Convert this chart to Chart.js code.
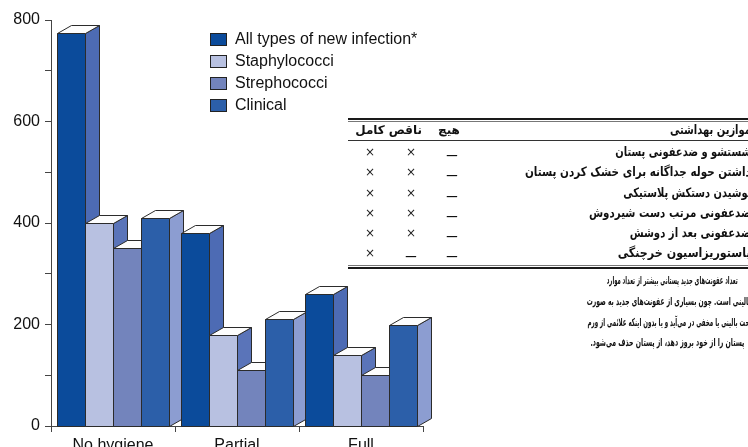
<!DOCTYPE html>
<html><head><meta charset="utf-8">
<script src="https://cdn.jsdelivr.net/npm/chart.js@4"></script>
<style>
html,body{margin:0;padding:0;background:#fff;}
#wrap{position:relative;width:748px;height:447px;overflow:hidden;background:#fff;}
#c{position:absolute;left:0;top:0;}
.leg{position:absolute;left:210px;height:16px;width:260px;font:16px "Liberation Sans",Arial,sans-serif;color:#111;white-space:nowrap;}
.leg .box{position:absolute;left:0;top:1px;width:15px;height:11px;border:1px solid #222;}
.leg .t{position:absolute;left:25px;top:-1px;line-height:16px;}
.fa{position:absolute;font-family:"DejaVu Sans",sans-serif;font-weight:bold;color:#111;direction:rtl;white-space:nowrap;line-height:20px;height:20px;transform-origin:100% 50%;}
.rule{position:absolute;left:348px;width:420px;}
.mk{position:absolute;width:30px;text-align:center;font-family:"DejaVu Sans",sans-serif;font-size:12px;color:#222;line-height:20px;height:20px;}
.dash{position:absolute;width:30px;text-align:center;font-family:"DejaVu Sans",sans-serif;font-weight:bold;font-size:13px;color:#111;line-height:20px;height:20px;transform:scaleX(1.6);}
</style></head>
<body>
<div id="wrap">
<canvas id="c" width="748" height="447"></canvas>
<div id="legend"></div>
<div id="table"></div>
<div id="para"></div>
</div>
<script>
// ---- data ----
const categories = ['No hygiene', 'Partial', 'Full'];
const seriesNames = ['All types of new infection*', 'Staphylococci', 'Strephococci', 'Clinical'];
const allTypes = [775, 380, 260];
const staphylococci = [400, 180, 140];
const strephococci = [350, 110, 100];
const clinical = [410, 210, 200];
const yTickLabels = [0, 200, 400, 600, 800];

const frontColors = ['#0b4b9b', '#b8c1e1', '#7384bc', '#2c5fa9'];
const sideColors = ['#4d6bb4', '#5a74b9', '#5a70b2', '#8c9dd1'];

// table (Persian)
const tableHeader = ['موازین بهداشتی', 'هیچ', 'ناقص', 'کامل'];
const hygieneMeasures = [
  'شستشو و ضدعفونی پستان',
  'داشتن حوله جداگانه برای خشک کردن پستان',
  'پوشیدن دستکش پلاستیکی',
  'ضدعفونی مرتب دست شیردوش',
  'ضدعفونی بعد از دوشش',
  'پاستوریزاسیون خرچنگی'
];
// columns: none, partial, full
const noneMarks = ['_', '_', '_', '_', '_', '_'];
const partialMarks = ['×', '×', '×', '×', '×', '_'];
const fullMarks = ['×', '×', '×', '×', '×', '×'];
const noteLines = [
  'تعداد عفونت‌های جدید پستانی بیشتر از تعداد موارد',
  'بالینی است. چون بسیاری از عفونت‌های جدید به صورت',
  'تحت بالینی یا مخفی در می‌آید و یا بدون اینکه علائمی از ورم',
  'پستان را از خود بروز دهد، از پستان حذف می‌شود.'
];

const seriesValues = [allTypes, staphylococci, strephococci, clinical];

const bar3d = {
  id: 'bar3d',
  beforeDatasetsDraw(chart) {
    const ctx = chart.ctx;
    const dx = 14, dy = 8;
    const poly = (pts) => {
      ctx.beginPath();
      ctx.moveTo(pts[0][0], pts[0][1]);
      for (let k = 1; k < pts.length; k++) ctx.lineTo(pts[k][0], pts[k][1]);
      ctx.closePath(); ctx.fill(); ctx.stroke();
    };
    ctx.save();
    ctx.lineWidth = 1; ctx.strokeStyle = '#2b2b2b'; ctx.lineJoin = 'miter';
    const n = chart.data.labels.length;
    for (let i = 0; i < n; i++) {
      chart.data.datasets.forEach((ds, d) => {
        const el = chart.getDatasetMeta(d).data[i];
        const p = el.getProps(['x', 'y', 'base', 'width'], true);
        const l = Math.round(p.x - p.width / 2) + 0.5, r = Math.round(p.x + p.width / 2) + 0.5;
        const y = Math.round(p.y) + 0.5, b = Math.round(p.base) + 0.5;
        ctx.fillStyle = ds.backgroundColor;
        poly([[l, y], [r, y], [r, b], [l, b]]);
        ctx.fillStyle = ds.sideColor;
        poly([[r, y], [r + dx, y - dy], [r + dx, b - dy], [r, b]]);
        ctx.fillStyle = '#fdfdfd';
        poly([[l, y], [l + dx, y - dy], [r + dx, y - dy], [r, y]]);
      });
    }
    ctx.restore();
    return false;
  }
};

const font16 = { size: 16, family: '"Liberation Sans", Arial, sans-serif' };

const chart = new Chart(document.getElementById('c'), {
  type: 'bar',
  data: {
    labels: categories,
    datasets: seriesNames.map((name, k) => ({
      label: name,
      data: seriesValues[k],
      backgroundColor: frontColors[k],
      sideColor: sideColors[k],
      borderColor: '#2b2b2b',
      borderWidth: 1,
      categoryPercentage: 0.905,
      barPercentage: 1.0
    }))
  },
  options: {
    responsive: false,
    animation: false,
    devicePixelRatio: 1,
    layout: { padding: { top: 20, right: 325, left: 0, bottom: 0 } },
    plugins: { legend: { display: false }, tooltip: { enabled: false } },
    scales: {
      x: {
        grid: { display: true, drawOnChartArea: false, drawTicks: true, tickLength: 6, color: '#444', offset: true },
        border: { display: true, color: '#444', width: 1 },
        ticks: { font: font16, color: '#111', padding: 4, maxRotation: 0 },
        afterFit(s) { s.height = 21; }
      },
      y: {
        min: 0, max: 800,
        grid: { drawOnChartArea: false, drawTicks: true, tickLength: 6, color: '#444' },
        border: { display: true, color: '#444', width: 1 },
        ticks: {
          stepSize: 100, font: font16, color: '#111', padding: 5,
          callback: v => yTickLabels.includes(v) ? String(v) : ''
        },
        afterFit(s) { s.width = 51; }
      }
    }
  },
  plugins: [bar3d]
});

// ---- legend (HTML) ----
const legend = document.getElementById('legend');
chart.data.datasets.forEach((ds, k) => {
  const item = document.createElement('div');
  item.className = 'leg';
  item.style.top = (32 + 22 * k) + 'px';
  item.innerHTML = '<span class="box" style="background:' + ds.backgroundColor + '"></span><span class="t"></span>';
  item.querySelector('.t').textContent = ds.label;
  legend.appendChild(item);
});

// ---- helpers ----
function fitRight(parent, txt, rightX, leftX, cy, size) {
  const el = document.createElement('div');
  el.className = 'fa';
  el.textContent = txt;
  el.style.fontSize = size + 'px';
  el.style.top = (cy - 10) + 'px';
  el.style.right = (748 - rightX) + 'px';
  parent.appendChild(el);
  const w = el.getBoundingClientRect().width;
  el.style.transform = 'scaleX(' + ((rightX - leftX) / w).toFixed(4) + ')';
  return el;
}

// ---- table (HTML) ----
const table = document.getElementById('table');
function addRule(top, h, color) {
  const r = document.createElement('div');
  r.className = 'rule';
  r.style.top = top + 'px'; r.style.height = h + 'px'; r.style.background = color;
  table.appendChild(r);
}
addRule(118, 2, '#1a1a1a'); addRule(121, 1, '#777');
addRule(140, 1, '#333');
addRule(265, 1, '#777'); addRule(267, 2, '#1a1a1a');

function addCentered(cls, txt, x, cy, size) {
  const el = document.createElement('div');
  el.className = cls;
  el.textContent = txt;
  el.style.top = (cy - 10) + 'px';
  el.style.left = (x - 15) + 'px';
  if (size) el.style.fontSize = size + 'px';
  table.appendChild(el);
  return el;
}
fitRight(table, tableHeader[0], 751, 670, 130, 13);
[[tableHeader[1], 449], [tableHeader[2], 407], [tableHeader[3], 370]].forEach(([t, x]) => {
  const e = addCentered('fa', t, x, 130, 12);
  e.style.width = '30px'; e.style.textAlign = 'center';
});
const rowY = [152, 172, 193, 213, 233, 253];
const rowLeft = [615, 525, 623, 589, 630, 618];
hygieneMeasures.forEach((m, i) => {
  fitRight(table, m, 751, rowLeft[i], rowY[i], 13);
  const marks = [[fullMarks[i], 370], [partialMarks[i], 411], [noneMarks[i], 452]];
  marks.forEach(([mk, x]) => {
    if (mk === '_') addCentered('dash', mk, x, rowY[i] - 3);
    else addCentered('mk', mk, x, rowY[i]);
  });
});

// ---- note paragraph ----
const para = document.getElementById('para');
const lineBoxes = [[607, 738, 281], [587, 751, 302], [587, 751, 323], [590, 744, 343]];
noteLines.forEach((t, i) => {
  fitRight(para, t, lineBoxes[i][1], lineBoxes[i][0], lineBoxes[i][2], 11);
});
</script>
</body></html>
